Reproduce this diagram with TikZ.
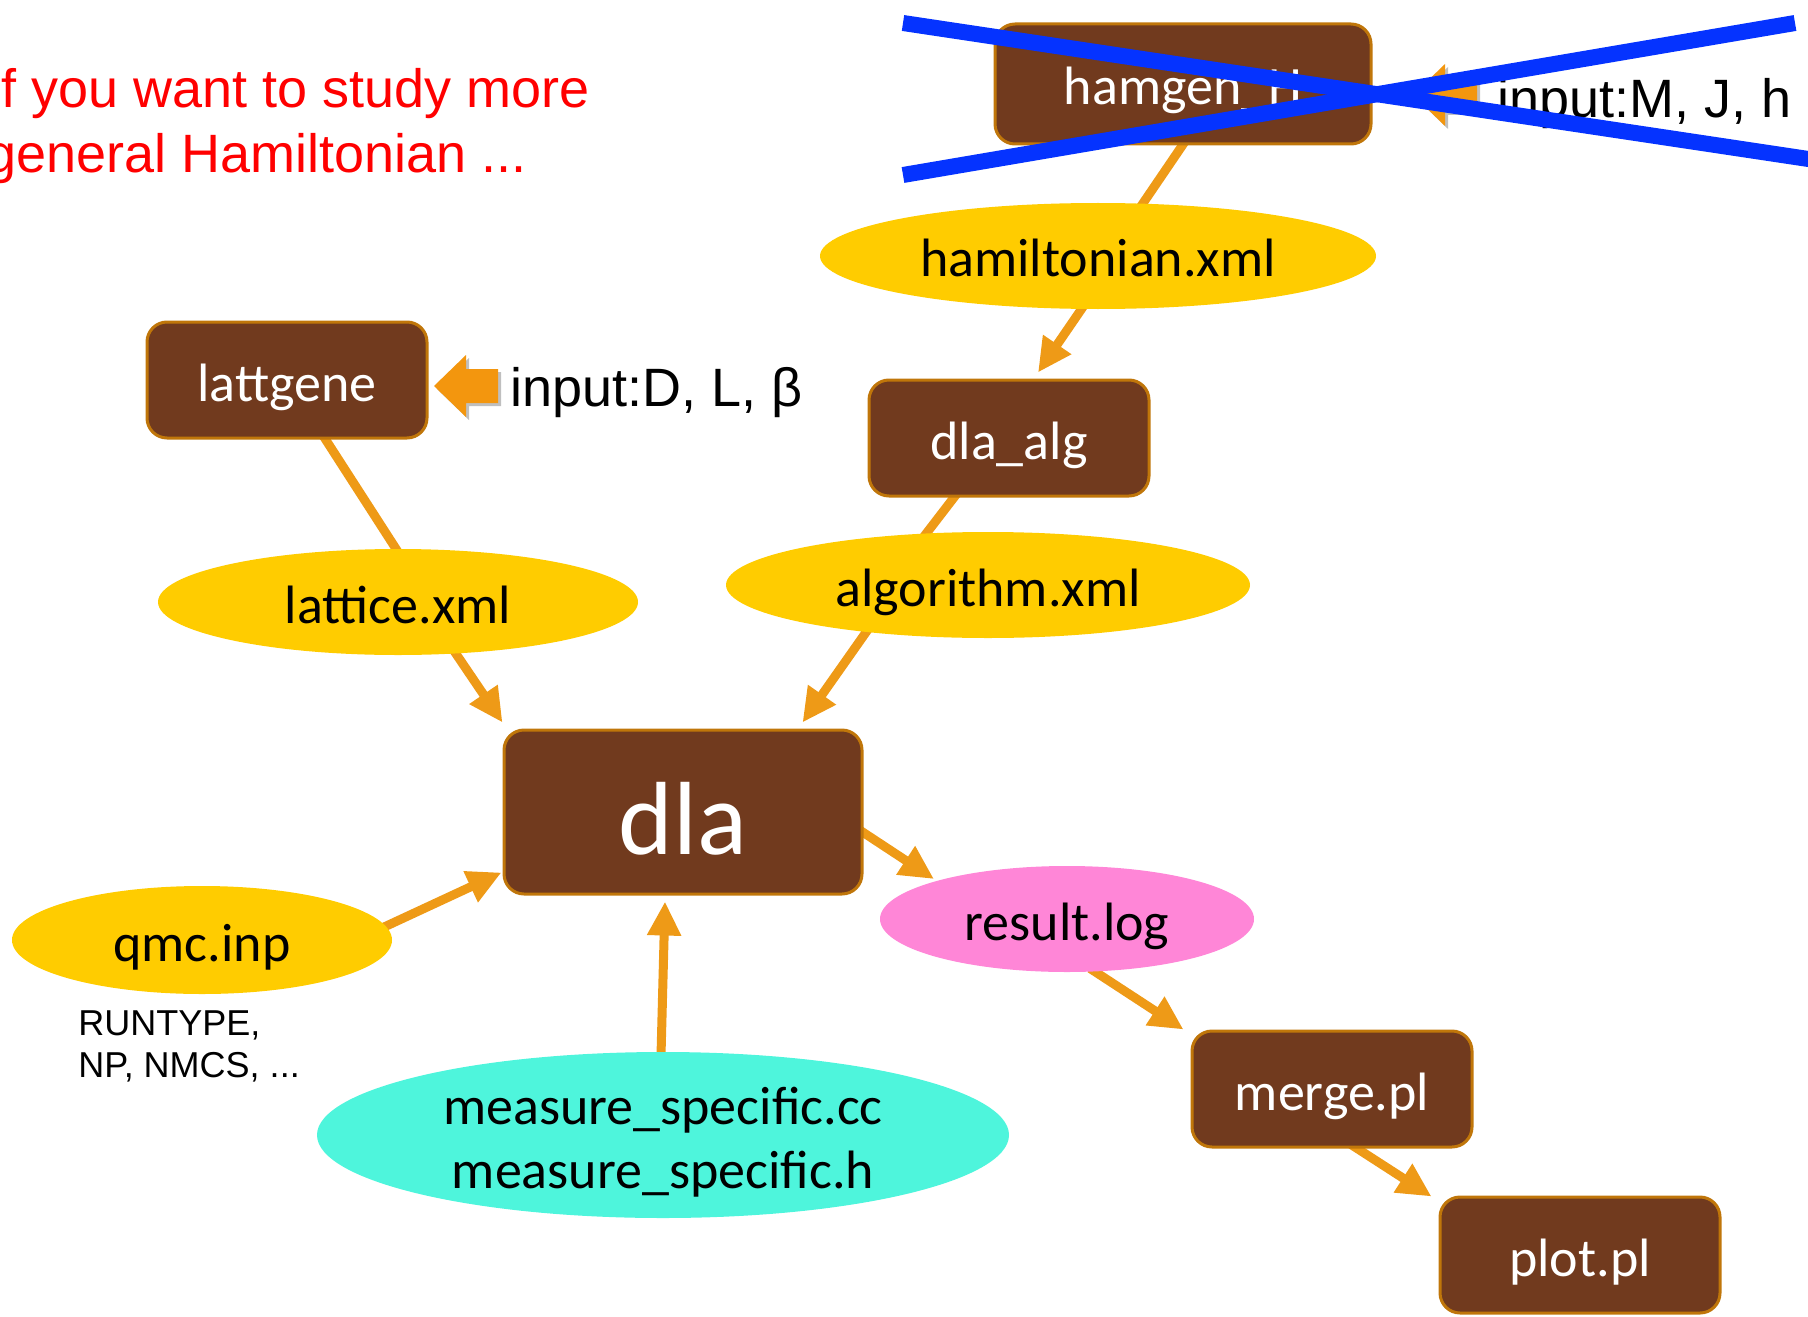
\documentclass[tikz,border=0pt]{standalone}
\usepackage{fontspec}
\setmainfont{Liberation Sans}
\newfontfamily\calfont{Carlito}
\usetikzlibrary{shapes.geometric,arrows.meta,calc}
\pgfdeclarelayer{background}
\pgfsetlayers{background,main}
\definecolor{boxfill}{RGB}{113,58,30}
\definecolor{boxedge}{RGB}{192,118,10}
\definecolor{ylw}{RGB}{255,204,0}
\definecolor{pnk}{RGB}{255,134,215}
\definecolor{cyn}{RGB}{78,245,220}
\definecolor{arr}{RGB}{238,154,23}
\definecolor{blockarr}{RGB}{243,150,14}
\definecolor{blu}{RGB}{5,51,255}
\begin{document}
\begin{tikzpicture}[x=0.5pt,y=-0.5pt,
  box/.style={rectangle, rounded corners=10pt, fill=boxfill, draw=boxedge, line width=1.5pt,
    text=white, font=\calfont\fontsize{27}{32}\selectfont, text height=24pt, text depth=3pt,
    inner sep=0pt, minimum width=140pt, minimum height=58pt},
  oval/.style={ellipse, draw=none, text=black, font=\calfont\fontsize{27}{32}\selectfont,
    text height=24pt, text depth=3pt, inner sep=0pt},
  conn/.style={draw=arr, line width=4.5pt},
  arrowed/.style={-{Triangle[length=17pt,width=16pt]}},
  plain/.style={inner sep=0pt, text=black}
]
\useasboundingbox (0,0) rectangle (1808,1316);

% boxes
\node[box, minimum width=188pt, minimum height=60pt] (hamgen) at (1183,84) {hamgen\_H};
\node[box] (lattgene) at (287,380) {lattgene};
\node[box] (dla_alg) at (1009,438) {dla\_alg};
\node[box, minimum width=179pt, minimum height=82pt, font=\calfont\fontsize{52}{60}\selectfont,
  text height=46pt, text depth=4pt] (dla) at (683,812) {dla};
\node[box] (merge) at (1332,1089) {merge.pl};
\node[box] (plot) at (1580,1255) {plot.pl};

% ellipses
\node[oval, fill=ylw, minimum width=278pt, minimum height=53pt] (hamiltonian) at (1098,256) {hamiltonian.xml};
\node[oval, fill=ylw, minimum width=240pt, minimum height=53pt] (lattice) at (398,602) {lattice.xml};
\node[oval, fill=ylw, minimum width=262pt, minimum height=53pt] (algorithm) at (988,585) {algorithm.xml};
\node[oval, fill=ylw, minimum width=190pt, minimum height=54pt] (qmc) at (202,940) {qmc.inp};
\node[oval, fill=pnk, minimum width=187pt, minimum height=53pt] (result) at (1067,919) {result.log};
\node[oval, fill=cyn, minimum width=346pt, minimum height=83pt] (measure) at (663,1135) {};
\node[plain, anchor=base, align=center, font=\calfont\fontsize{27}{32}\selectfont] (measuretext)
  at ($(measure.center)+(0,53)$) {measure\_specific.cc\\measure\_specific.h};

% texts
\node[plain, anchor=base west, align=left, text=red, font=\fontsize{27}{32.5}\selectfont] (note)
  at (-14,173) {If you want to study more\\general Hamiltonian ...};
\node[plain, anchor=base west, font=\fontsize{27}{32}\selectfont] (inD) at (510,406) {input:D, L, β};
\node[plain, anchor=base west, font=\fontsize{27}{32}\selectfont] (inM) at (1497,118) {input:M, J, h};
\node[plain, anchor=base west, align=left, font=\fontsize{18}{21}\selectfont] (runtype)
  at (78,1077) {RUNTYPE,\\NP, NMCS, ...};

% block arrows
\coordinate (tipD) at (434,386);
\coordinate (tipM) at (1413,95);
\foreach \t in {tipD,tipM}{
  \fill[black, opacity=0.25] ($(\t)+(3,3)$) -- ++(32,-31) -- ++(0,14) -- ++(32,0) -- ++(0,34) -- ++(-32,0) -- ++(0,14) -- cycle;
  \fill[blockarr] (\t) -- ++(32,-31) -- ++(0,14) -- ++(32,0) -- ++(0,34) -- ++(-32,0) -- ++(0,14) -- cycle;
}

% connectors
\begin{pgfonlayer}{background}
\draw[conn] ($(hamgen.south)+(2,-4)$) -- ($(hamiltonian.north)+(40,8)$);
\draw[conn,arrowed] ($(hamiltonian.south)+(-14,-4)$) -- ($(dla_alg.north)+(29,-6)$);
\draw[conn] ($(dla_alg.south)+(-52,-4)$) -- ($(algorithm.north)+(-68,10)$);
\draw[conn] ($(lattgene.south)+(36,-4)$) -- ($(lattice.north)+(3,8)$);
\draw[conn,arrowed] ($(lattice.south)+(55,-6)$) -- ($(dla.north west)+(0,-6)$);
\draw[conn,arrowed] ($(algorithm.center)+(-119,43)$) -- ($(dla.north east)+(-61,-6)$);
\draw[conn,arrowed] ($(qmc.center)+(180,-12)$) -- ($(dla.south west)+(-1,-23)$);
\draw[conn,arrowed] ($(measure.north)+(-2,4)$) -- ($(dla.south)+(-18,6)$);
\draw[conn,arrowed] ($(dla.east)+(-4,18)$) -- ($(result.center)+(-133,-40)$);
\draw[conn,arrowed] ($(result.south)+(23,-4)$) -- ($(merge.north west)+(-7,0)$);
\draw[conn,arrowed] ($(merge.south)+(19,-4)$) -- ($(plot.north west)+(-7,1)$);
\end{pgfonlayer}

% blue cross
\coordinate (c1a) at (903,23);
\coordinate (c1b) at (1815,160);
\coordinate (c2a) at (903,175);
\coordinate (c2b) at (1795,23);
\draw[blu, line width=8pt] (c1a) -- (c1b);
\draw[blu, line width=8pt] (c2a) -- (c2b);
\end{tikzpicture}
\end{document}
